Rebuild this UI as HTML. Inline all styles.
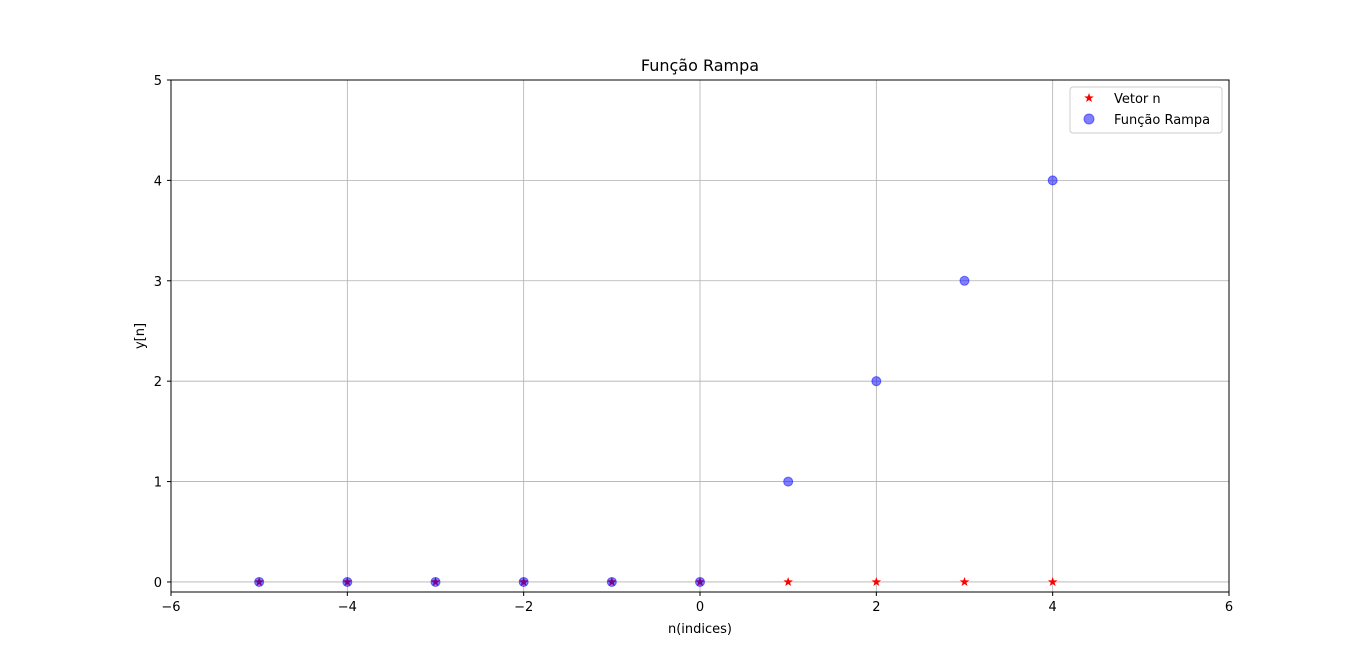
<!DOCTYPE html>
<html><head><meta charset="utf-8"><style>
body{margin:0;background:#fff;}
svg{display:block;font-family:"DejaVu Sans","Liberation Sans",sans-serif;}
</style></head><body>
<svg id="chart" width="1366" height="665">
<rect x="0" y="0" width="1366" height="665" fill="#fff"/>
<g id="grid"></g>
<g id="marks"></g>
<rect x="171" y="80" width="1058" height="512" fill="none" stroke="#000" stroke-width="1"/>
<g id="ticks"></g>
<text x="700" y="71" font-size="16" text-anchor="middle">Função Rampa</text>
<text x="700" y="633" font-size="13" text-anchor="middle">n(indices)</text>
<text transform="translate(144,336) rotate(-90)" font-size="13" text-anchor="middle">y[n]</text>
<g>
<rect x="1070" y="87" width="152" height="46" rx="3" fill="#fff" fill-opacity="0.8" stroke="#ccc"/>
<g>
<polygon id="lstar" fill="red"/>
<text x="1114" y="103" font-size="13">Vetor n</text>
</g>
<g>
<circle cx="1089" cy="119" r="5" fill="blue" fill-opacity="0.5" stroke="blue" stroke-opacity="0.5"/>
<text x="1114" y="124" font-size="13">Função Rampa</text>
</g>
</g>
</svg>
<script>
const nValues=[-5,-4,-3,-2,-1,0,1,2,3,4];
const vetorY=[0,0,0,0,0,0,0,0,0,0];
const rampaY=[0,0,0,0,0,0,1,2,3,4];
const xTicks=[-6,-4,-2,0,2,4,6];
const yTicks=[0,1,2,3,4,5];
const NS='http://www.w3.org/2000/svg';
const X=v=>171+(v+6)*1058/12;
const Y=v=>592-(v+0.1)*512/5.1;
function mk(t,a,p){const e=document.createElementNS(NS,t);for(const k in a)e.setAttribute(k,a[k]);p.appendChild(e);return e;}
function starPts(cx,cy,r){let p=[];for(let i=0;i<10;i++){const rr=i%2?r*0.4:r;const a=-Math.PI/2+i*Math.PI/5;p.push((cx+rr*Math.cos(a)).toFixed(2)+','+(cy+rr*Math.sin(a)).toFixed(2));}return p.join(' ');}
const grid=document.getElementById('grid'),ticks=document.getElementById('ticks'),marks=document.getElementById('marks');
xTicks.forEach(t=>{
 const l=mk('line',{x1:X(t),x2:X(t),y1:80,y2:592,stroke:'#b0b0b0','stroke-width':0.8},grid);
 
 mk('line',{x1:X(t),x2:X(t),y1:592,y2:596,stroke:'#000'},ticks);
 const tx=mk('text',{x:X(t),y:611,'font-size':13,'text-anchor':'middle'},ticks);
 tx.textContent=(t<0?'\u2212'+(-t):t);
 
});
yTicks.forEach(t=>{
 const l=mk('line',{x1:171,x2:1229,y1:Y(t),y2:Y(t),stroke:'#b0b0b0','stroke-width':0.8},grid);
 
 mk('line',{x1:167,x2:171,y1:Y(t),y2:Y(t),stroke:'#000'},ticks);
 const tx=mk('text',{x:162,y:Y(t)+5,'font-size':13,'text-anchor':'end'},ticks);
 tx.textContent=t;
 
});
nValues.forEach((n,i)=>{
 const s=mk('polygon',{points:starPts(X(n),Y(vetorY[i]),5),fill:'red'},marks);
 
});
nValues.forEach((n,i)=>{
 const c=mk('circle',{cx:X(n),cy:Y(rampaY[i]),r:4.5,fill:'blue','fill-opacity':0.5,stroke:'blue','stroke-opacity':0.5},marks);
 
});
document.getElementById('lstar').setAttribute('points',starPts(1089,98,5));
</script>
</body></html>
